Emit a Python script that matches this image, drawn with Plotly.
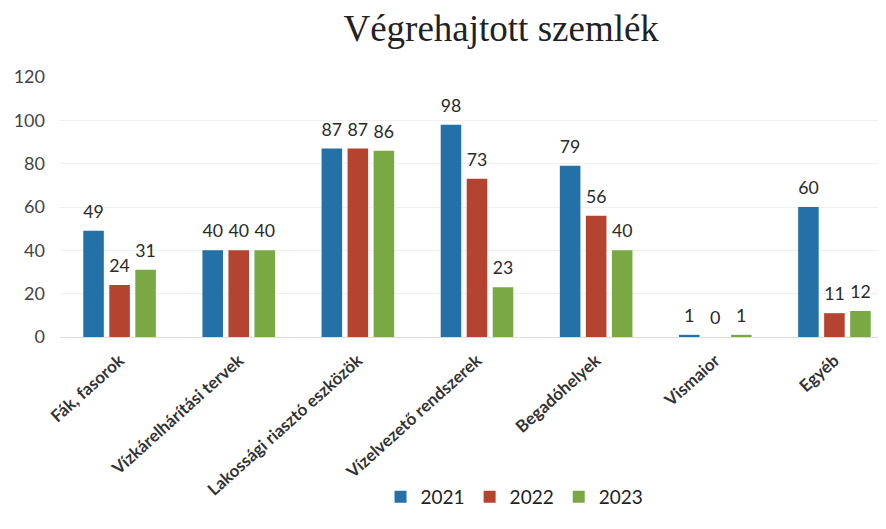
import plotly.graph_objects as go

categories = ["Fák, fasorok", "Vízkárelhárítási tervek", "Lakossági riasztó eszközök",
              "Vízelvezető rendszerek", "Begadóhelyek", "Vismaior", "Egyéb"]
years = ["2021", "2022", "2023"]
v2021 = [49, 40, 87, 98, 79, 1, 60]
v2022 = [24, 40, 87, 73, 56, 0, 11]
v2023 = [31, 40, 86, 23, 40, 1, 12]
colors = ["#2471a8", "#b4442f", "#7aa843"]
y_ticks = [0, 20, 40, 60, 80, 100, 120]

fig = go.Figure()
for name, vals, col in zip(years, [v2021, v2022, v2023], colors):
    fig.add_trace(go.Bar(
        x=categories, y=vals, name=name, marker=dict(color=col, line=dict(width=0)),
        text=[str(v) for v in vals],
        texttemplate="<span style='font-size:18px'>%{text}</span><br> ",
        textposition="outside", cliponaxis=False,
        textfont=dict(family="Lato", size=7, color="#2a2a2a"),
    ))

fig.update_layout(
    width=886, height=529,
    paper_bgcolor="white", plot_bgcolor="white",
    margin=dict(l=52, r=0, t=69, b=200),
    barmode="group", bargap=0.345, bargroupgap=0.21,
    title=dict(text="Végrehajtott szemlék", x=0.529, xref="paper", xanchor="center",
               y=0.962, yanchor="middle",
               font=dict(family="Liberation Serif", size=37, color="#222")),
    font=dict(family="Lato", color="#333"),
    legend=dict(orientation="h", x=0.545, xanchor="center", y=-0.615, yanchor="middle",
                font=dict(size=19, color="#222"), traceorder="normal", itemwidth=30),
    xaxis=dict(tickangle=-42, tickfont=dict(family="Lato", size=17, color="#333", weight=700),
               showline=True, linecolor="#dcdcdc", ticks="", ticklabelstandoff=6),
    yaxis=dict(range=[0, 120], tickvals=y_ticks, showgrid=True, gridcolor="#f0f0f0",
               tickfont=dict(size=18, color="#444"), zeroline=False, ticklabelstandoff=14),
)
fig.write_html("out.html")
